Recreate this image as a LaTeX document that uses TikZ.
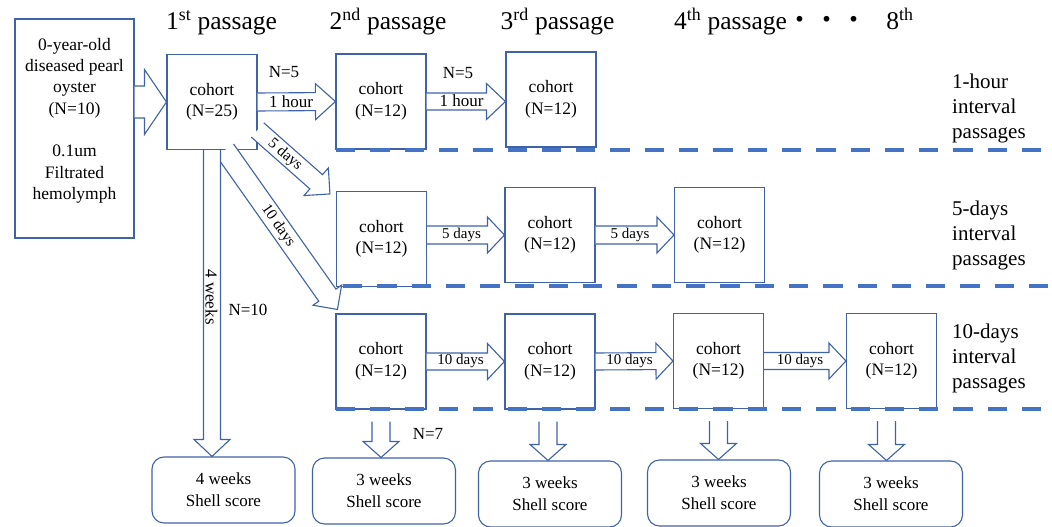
\documentclass[tikz,border=0pt]{standalone}
\usepackage{fontspec}
\setmainfont{Liberation Serif}
\newfontfamily\cjkfont{Noto Sans CJK JP}
\usetikzlibrary{calc}
\definecolor{lineblue}{HTML}{4062A8}
\definecolor{dashblue}{HTML}{4472C4}
\tikzset{
  thin line/.style={draw=lineblue, line width=1.1pt},
  cbox/.style={thin line, fill=white, minimum width=90pt, minimum height=95pt, inner sep=0pt, align=center, font=\fontsize{17.5}{21.5}\selectfont},
  lbox/.style={thin line, fill=white, minimum width=119pt, minimum height=219pt, inner sep=0pt},
  lbtext/.style={inner sep=0pt, align=center, font=\fontsize{17.5}{21.3}\selectfont},
  sbox/.style={thin line, fill=white, rounded corners=12pt, minimum width=143pt, minimum height=66pt, inner sep=0pt, align=center, font=\fontsize{17}{22}\selectfont},
  blkline/.style={thin line, fill=white, line join=miter},
  lbl/.style={inner sep=0pt, font=\fontsize{17}{20}\selectfont},
  slbl/.style={inner sep=0pt, font=\fontsize{15}{18}\selectfont},
  dlbl/.style={inner sep=0pt, font=\fontsize{15.5}{18}\selectfont},
  head/.style={inner sep=0pt, anchor=base, font=\fontsize{25.5}{30}\selectfont},
  side/.style={inner sep=0pt, anchor=north west, align=left, font=\fontsize{21}{24.8}\selectfont},
  sep line/.style={draw=dashblue, line width=4pt, dash pattern=on 19.3pt off 15pt},
}
% block arrow: #1 start, #2 tip, #3 shaft half width, #4 head half width, #5 head length
\newcommand{\blkarr}[5]{%
  \coordinate (bab) at ($(#2)!#5!(#1)$);
  \draw[blkline] ($(#1)!#3!90:(#2)$) -- ($(bab)!#3!-90:(#1)$) -- ($(bab)!#4!-90:(#1)$) -- (#2) -- ($(bab)!#4!90:(#1)$) -- ($(bab)!#3!90:(#1)$) -- ($(#1)!#3!-90:(#2)$);
}
\begin{document}
\begin{tikzpicture}[x=1pt,y=-1pt]
\useasboundingbox (0,0) rectangle (1052,527);

% headers
\node[head] (h1) at (221.5,30) {1\textsuperscript{st} passage};
\node[head] (h2) at (388,30) {2\textsuperscript{nd} passage};
\node[head] (h3) at (557.5,30) {3\textsuperscript{rd} passage};
\node[head] (h4) at (730.5,30) {4\textsuperscript{th} passage};
\node[inner sep=0pt, anchor=base, font=\cjkfont\fontsize{27}{30}\selectfont] (hd) at (827,30) {・・・};
\node[head] (h8) at (900,30) {8\textsuperscript{th}};

% left box
\node[lbox] (lb) at (74.5,128.5) {};
\node[lbtext, anchor=north] (lbt) at (74.5,38) {0-year-old\\diseased pearl\\oyster\\(N=10)\\[21.3pt]0.1um\\Filtrated\\hemolymph};

% cohorts
\node[cbox] (c1) at (212,102) {cohort\\(N=25)};
\node[cbox] (r1b) at (381,101.5) {cohort\\(N=12)};
\node[cbox] (r1c) at (551,99.5) {cohort\\(N=12)};
\node[cbox] (r2a) at (381.5,239) {cohort\\(N=12)};
\node[cbox] (r2b) at (550,235) {cohort\\(N=12)};
\node[cbox] (r2c) at (719.5,235) {cohort\\(N=12)};
\node[cbox] (r3a) at (381,361.5) {cohort\\(N=12)};
\node[cbox] (r3b) at (550,361.5) {cohort\\(N=12)};
\node[cbox] (r3c) at (718.5,361) {cohort\\(N=12)};
\node[cbox] (r3d) at (891.5,361) {cohort\\(N=12)};

% shell score boxes
\node[sbox] (s1) at (223.5,490) {4 weeks\\Shell score};
\node[sbox] (s2) at (384,491) {3 weeks\\Shell score};
\node[sbox] (s3) at (550,494) {3 weeks\\Shell score};
\node[sbox] (s4) at (719,493) {3 weeks\\Shell score};
\node[sbox] (s5) at (891,494) {3 weeks\\Shell score};

% arrow end points
\coordinate (a0s) at (lb.east |- c1.west);
\coordinate (a5s) at ($(c1.east)+(0,28)$);
\coordinate (a5e) at ($(r2a.north west)+(-6,3)$);
\coordinate (a10s) at ($(c1.south)+(13,0)$);
\coordinate (a10e) at ($(r3a.north west)+(2,-4)$);
\coordinate (a2e) at (r1b.east -| r1c.west);
\coordinate (b1s) at (r2a.east |- r2b.west);
\coordinate (d1) at ($(r3a.south)+(0,12)$);
\coordinate (d2) at ($(r3b.south)+(-2,12)$);
\coordinate (d3) at ($(r3c.south)+(0,12)$);
\coordinate (d4) at ($(r3d.south)+(-5,12)$);
\coordinate (d1e) at (d1 |- s2.north);
\coordinate (d2e) at (d2 |- s3.north);
\coordinate (d3e) at (d3 |- s4.north);
\coordinate (d4e) at (d4 |- s5.north);
\coordinate (w4e) at (c1.south |- s1.north);

% block arrows
\blkarr{a0s}{c1.west}{16pt}{32.5pt}{22pt}
\blkarr{c1.east}{r1b.west}{9pt}{18pt}{20pt}
\blkarr{r1b.east}{a2e}{8.5pt}{18pt}{19pt}
\blkarr{a5s}{a5e}{9.5pt}{18.4pt}{18.4pt}
\blkarr{a10s}{a10e}{10.5pt}{17.5pt}{17.5pt}
\blkarr{c1.south}{w4e}{8.5pt}{18pt}{17pt}
\blkarr{b1s}{r2b.west}{9pt}{18pt}{17pt}
\blkarr{r2b.east}{r2c.west}{9pt}{18pt}{17pt}
\blkarr{r3a.east}{r3b.west}{8.5pt}{18pt}{17pt}
\blkarr{r3b.east}{r3c.west}{8.5pt}{18pt}{17pt}
\blkarr{r3c.east}{r3d.west}{8.5pt}{18pt}{17pt}
\blkarr{d1}{d1e}{9pt}{18pt}{16pt}
\blkarr{d2}{d2e}{9pt}{18pt}{16pt}
\blkarr{d3}{d3e}{9pt}{18pt}{16pt}
\blkarr{d4}{d4e}{9pt}{18pt}{16pt}

% arrow labels
\node[lbl] (n5a) at (284,72) {N=5};
\node[lbl] (h1a) at (291,102) {1 hour};
\node[lbl] (n5b) at (458,73) {N=5};
\node[lbl] (h1b) at (461.5,101) {1 hour};
\node[dlbl, rotate=-41] (d5l) at (285,155) {5 days};
\node[dlbl, rotate=-55] (d10l) at (278,226) {10 days};
\node[lbl, rotate=-90] (w4l) at (211.5,297) {4 weeks};
\node[lbl] (n10) at (248,310) {N=10};
\node[lbl] (n7) at (428,434) {N=7};
\node[slbl] (f5a) at (461.5,235) {5 days};
\node[slbl] (f5b) at (630,235) {5 days};
\node[slbl] (t10a) at (460.5,361) {10 days};
\node[slbl] (t10b) at (629.5,361) {10 days};
\node[slbl] (t10c) at (800,361) {10 days};

% side labels
\node[side] (sl1) at (952,73.7) {1-hour\\interval\\passages};
\node[side] (sl2) at (952,200.7) {5-days\\interval\\passages};
\node[side] (sl3) at (952,324) {10-days\\interval\\passages};

% separator lines
\draw[sep line] (336,150) -- (1042,150);
\draw[sep line] (343,286) -- (1048,286);
\draw[sep line] (336,408.5) -- (1043,408.5);
\end{tikzpicture}
\end{document}
